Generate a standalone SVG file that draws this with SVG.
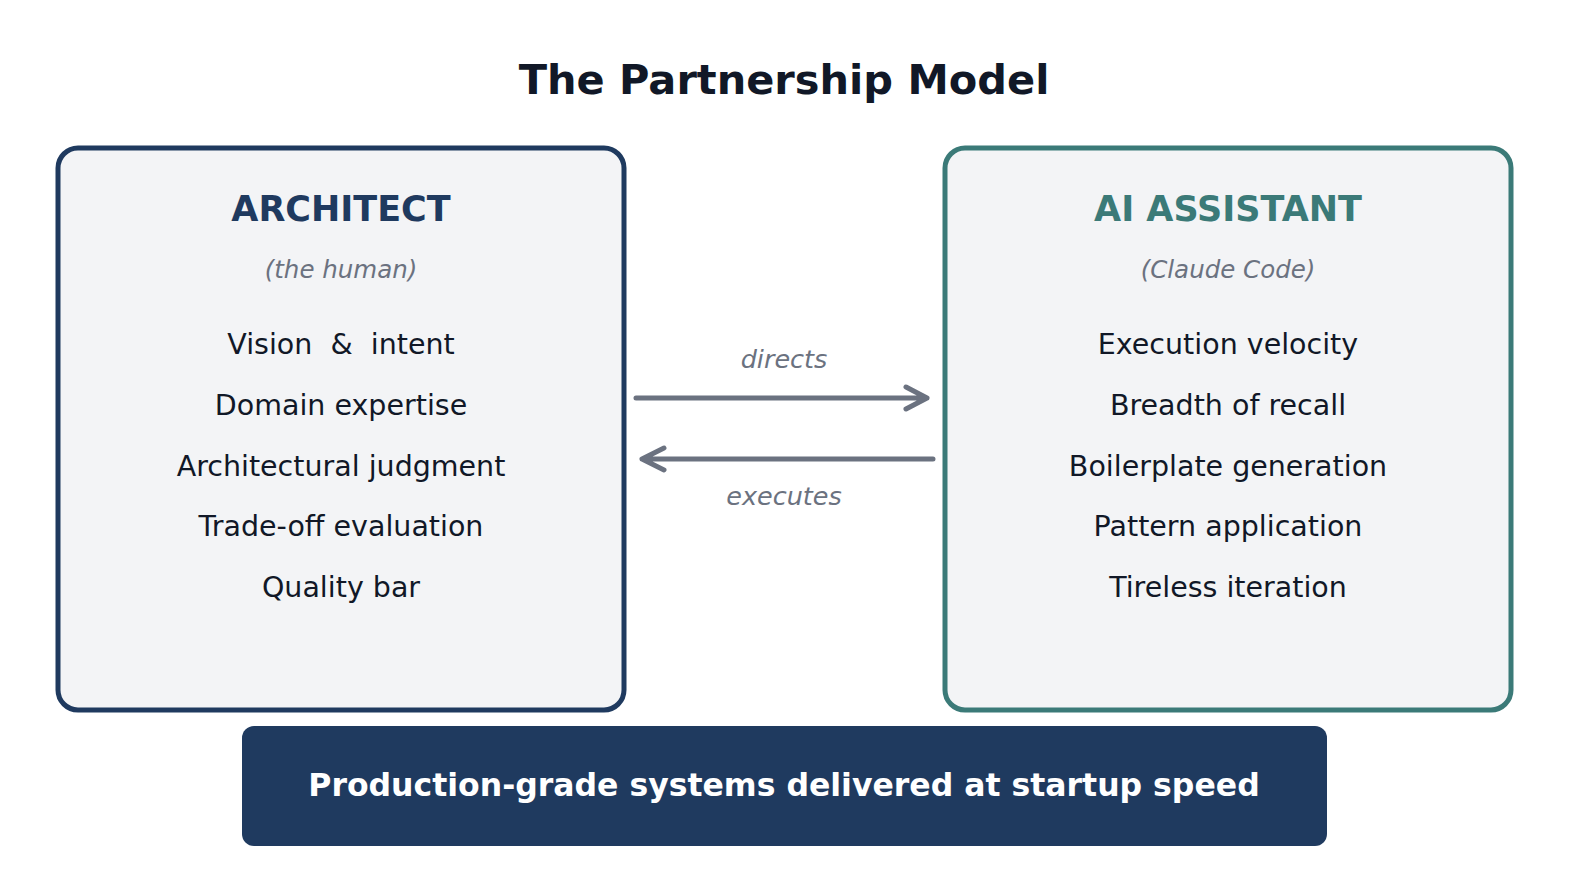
<svg xmlns="http://www.w3.org/2000/svg" width="1589" height="886" viewBox="0 0 1589 886">
<style>
text{font-family:"DejaVu Sans",sans-serif;text-anchor:middle}
.title{font-size:41.5px;font-weight:bold;fill:#111827}
.head{font-size:35px;font-weight:bold}
.sub{font-size:24.5px;font-style:italic;fill:#6b7280}
.item{font-size:28.5px;fill:#111827}
.lbl{font-size:25.5px;font-style:italic;fill:#6b7280}
.box{fill:#f3f4f6;stroke-width:5}
.arr{stroke:#6b7280;stroke-width:5;fill:none;stroke-linecap:round;stroke-linejoin:round}
</style>
<rect width="1589" height="886" fill="#fff"/>
<text class="title" x="784" y="94">The Partnership Model</text>
<g id="architect">
<rect class="box" x="58" y="148" width="566" height="562" rx="20" stroke="#1f3a5f"/>
<text class="head" x="341" y="221" fill="#1f3a5f">ARCHITECT</text>
<text class="sub" x="341" y="278">(the human)</text>
<text class="item" x="341" y="354" xml:space="preserve">Vision  &amp;  intent</text>
<text class="item" x="341" y="415">Domain expertise</text>
<text class="item" x="341" y="476">Architectural judgment</text>
<text class="item" x="341" y="536">Trade-off evaluation</text>
<text class="item" x="341" y="597">Quality bar</text>
</g>
<g id="assistant">
<rect class="box" x="945" y="148" width="566" height="562" rx="20" stroke="#3b7a78"/>
<text class="head" x="1228" y="221" fill="#3b7a78">AI ASSISTANT</text>
<text class="sub" x="1228" y="278">(Claude Code)</text>
<text class="item" x="1228" y="354">Execution velocity</text>
<text class="item" x="1228" y="415">Breadth of recall</text>
<text class="item" x="1228" y="476">Boilerplate generation</text>
<text class="item" x="1228" y="536">Pattern application</text>
<text class="item" x="1228" y="597">Tireless iteration</text>
</g>
<g id="connectors">
<path class="arr" d="M636 398H927M906 387L927 398L906 409"/>
<path class="arr" d="M933 459H642M664 448L642 459L664 470"/>
<text class="lbl" x="784" y="368">directs</text>
<text class="lbl" x="784" y="505">executes</text>
</g>
<g id="banner">
<rect x="242" y="726" width="1085" height="120" rx="12" fill="#1f3a5f"/>
<text x="784" y="796" font-size="31.5" font-weight="bold" fill="#fff">Production-grade systems delivered at startup speed</text>
</g>
</svg>
